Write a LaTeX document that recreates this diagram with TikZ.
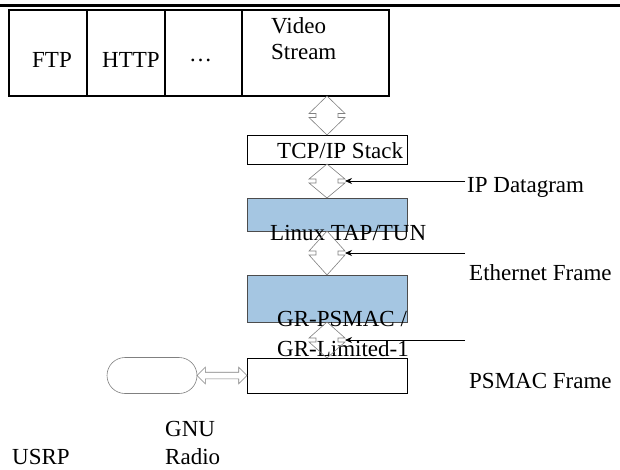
\documentclass[tikz,border=0pt]{standalone}
\usepackage{fontspec}
\setmainfont{Liberation Serif}
\usepackage{xcolor}
\usetikzlibrary{shapes,arrows,arrows.meta,positioning,calc}
\definecolor{tapblue}{RGB}{165,198,226}

% hollow up/down block arrow between two stacked boxes
\newcommand{\updown}[3]{%
  \coordinate (#1) at ($(#3.north)!0.5!(#3.north|-#2.south)$);
  \draw[blockarrow] (#2.south-|#1) -- ($(#1)+(18,-2)$) -- ($(#1)+(11,-2)$) -- ($(#1)+(11,2)$) -- ($(#1)+(18,2)$)
    -- (#3.north) -- ($(#1)+(-18,2)$) -- ($(#1)+(-11,2)$) -- ($(#1)+(-11,-2)$) -- ($(#1)+(-18,-2)$) -- cycle;
  \coordinate (#1e) at ($(#1)+(18,0)$);
}

\begin{document}
\begin{tikzpicture}[x=1pt, y=-1pt, >={Stealth[length=7pt,width=6pt]}, font=\fontsize{23}{26}\selectfont]
                    % Define styles
                    \tikzstyle{appbox} = [rectangle, draw, line width=2.6pt, minimum height=86pt, inner sep=0pt, outer sep=0pt]
                    \tikzstyle{stackbox} = [rectangle, draw, line width=0.8pt, minimum width=160pt, inner sep=0pt, outer sep=0pt]
                    \tikzstyle{bluebox} = [stackbox, draw=black!70, fill=tapblue]
                    \tikzstyle{lbl} = [inner sep=0pt, anchor=base west]
                    \tikzstyle{blockarrow} = [draw=gray, line width=0.6pt]
                    \tikzstyle{line} = [draw, ->, line width=0.8pt]

                    \useasboundingbox (0,0) rectangle (620,470);
                    \draw[line width=3pt] (0,5.5) -- (620,5.5);

                    % Nodes
                    \node [appbox, minimum width=78pt] (ftp) at (48,53) {};
                    \node [appbox, minimum width=78pt, right=0pt of ftp] (http) {};
                    \node [appbox, minimum width=77pt, right=0pt of http] (more) {};
                    \node [appbox, minimum width=147pt, right=0pt of more] (video) {};
                    \node [stackbox, minimum height=29pt] (tcp) at (327,149.5) {};
                    \node [bluebox, minimum height=33pt, below=34pt of tcp] (tap) {};
                    \node [bluebox, minimum height=47pt, below=44pt of tap] (psmac) {};
                    \node [stackbox, minimum height=35pt, below=36pt of psmac] (frame) {};
                    \node [rounded rectangle, draw=gray, line width=0.6pt, minimum width=90pt, minimum height=36pt, inner sep=0pt, outer sep=0pt, left=50pt of frame] (usrp) {};

                    % Labels
                    \node [lbl] (ftplbl) at (32,68) {FTP};
                    \node [lbl] (httplbl) at (102,68) {HTTP};
                    \node [lbl] (morelbl) at (189,62) {\ldots};
                    \node [inner sep=0pt, anchor=north west, align=left] (videolbl) at (271,17.3) {Video\\Stream};
                    \node [lbl] (tcplbl) at (277,159) {TCP/IP Stack};
                    \node [lbl] (taplbl) at (270,240) {Linux TAP/TUN};
                    \node [inner sep=0pt, anchor=north west, align=left] (psmaclbl) at (277,311) {GR-PSMAC /\\[4pt]GR-Limited-1};
                    \node [lbl] (iplbl) at (467,193) {IP Datagram};
                    \node [lbl] (ethlbl) at (469,280) {Ethernet Frame};
                    \node [lbl] (framelbl) at (469,388) {PSMAC Frame};
                    \node [inner sep=0pt, anchor=north west, align=left] (gnulbl) at (165,421.5) {GNU\\[2pt]Radio};
                    \node [lbl] (usrplbl) at (12,464) {USRP};

                    % Arrows
                    \updown{xfer1}{video}{tcp}
                    \updown{xfer2}{tcp}{tap}
                    \updown{xfer3}{tap}{psmac}
                    \updown{xfer4}{psmac}{frame}
                    \coordinate (ipfrom) at ($(xfer2e)+(120,0)$);
                    \coordinate (ethfrom) at ($(xfer3e)+(120,0)$);
                    \coordinate (psfrom) at ($(xfer4e)+(120,0)$);
                    \draw [line] (ipfrom) -- (xfer2e);
                    \draw [line] (ethfrom) -- (xfer3e);
                    \draw [line] (psfrom) -- (xfer4e);
                    \node [double arrow, draw=gray, line width=0.6pt, minimum width=16pt, minimum height=50pt, double arrow head extend=5pt, inner sep=3pt] (link) at ($(usrp.east)!0.5!(frame.west)$) {};
                \end{tikzpicture}
\end{document}
